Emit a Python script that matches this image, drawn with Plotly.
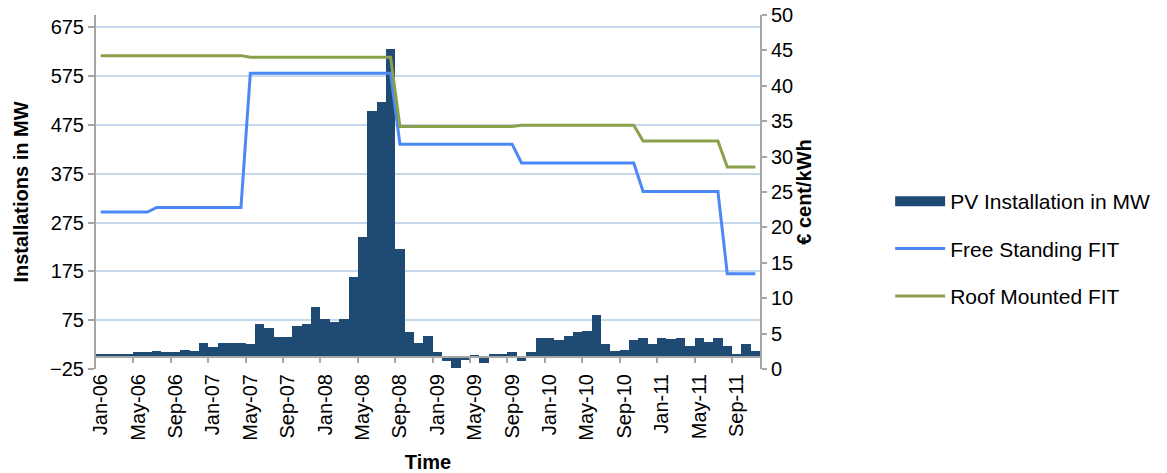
import pandas as pd
import plotly.graph_objects as go

# ---- data ----
months = pd.date_range("2006-01-01", periods=71, freq="MS").strftime("%b-%y").tolist()

pv_installation_mw = [
    5.5, 5.5, 5.5, 5, 9.7, 9.7, 12.5, 9.7, 9.5, 14.5, 11.8, 28,
    20.6, 28, 28, 28, 26, 67.6, 58.8, 39.7, 39.7, 64, 67.6, 103,
    77, 72, 77, 164, 245, 504, 522, 631, 220, 50, 28, 43,
    9, -9, -22, -6, 4, -12, 5.5, 5.5, 10, -9, 9, 38,
    38, 35, 43, 50, 52.5, 85, 27, 11, 14.5, 35, 38, 27,
    38, 37, 38, 23, 38, 30, 38, 23, 5.5, 27, 11,
]

free_standing_fit = (
    [22.17] * 6 + [22.82] * 10 + [41.78] * 16 + [31.76] * 13
    + [29.1] * 13 + [25.08] * 9 + [13.47] * 4
)
roof_mounted_fit = (
    [44.26] * 16 + [44.03] * 16 + [34.25] * 13 + [34.42] * 13
    + [32.19] * 9 + [28.52] * 4
)

left_ticks = [-25, 75, 175, 275, 375, 475, 575, 675]
label_every = 4

# ---- figure ----
idx = list(range(len(months)))
font_family = "Liberation Sans, Arial, sans-serif"
axis_grey = "#A6A6A6"
bar_color = "#1F4A73"

fig = go.Figure()
fig.add_trace(go.Bar(
    x=idx, y=pv_installation_mw, name="PV Installation in MW",
    marker=dict(color=bar_color, line=dict(width=0)),
    xaxis="x", yaxis="y", legendgroup="a", showlegend=False,
))
# legend entry for the bars, drawn as a wide block like the original
fig.add_trace(go.Scatter(
    x=[None], y=[None], name="PV Installation in MW", mode="lines",
    line=dict(color=bar_color, width=10), xaxis="x", yaxis="y", legendgroup="a",
))
fig.add_trace(go.Scatter(
    x=idx, y=free_standing_fit, name="Free Standing FIT", mode="lines",
    line=dict(color="#4A88F5", width=3), xaxis="x2", yaxis="y2", legendgroup="b",
))
fig.add_trace(go.Scatter(
    x=idx, y=roof_mounted_fit, name="Roof Mounted FIT", mode="lines",
    line=dict(color="#8AA04A", width=3), xaxis="x2", yaxis="y2", legendgroup="c",
))

xr = [-0.5, len(months) - 0.5]
zero_pos = (0 - (-25)) / (700 - (-25))

fig.update_layout(
    width=1167, height=473,
    margin=dict(l=96, r=401, t=15, b=104),
    paper_bgcolor="white", plot_bgcolor="white",
    font=dict(family=font_family, size=20, color="black"),
    bargap=0,
    showlegend=True,
    legend=dict(
        x=1.196, y=0.34, xanchor="left", yanchor="middle",
        font=dict(size=21), tracegroupgap=17, itemwidth=50,
        bgcolor="rgba(0,0,0,0)",
    ),
    xaxis=dict(
        range=xr, tickmode="array",
        tickvals=idx[::label_every], ticktext=months[::label_every],
        tickangle=-90, ticks="", showline=False, showgrid=False, zeroline=False,
        automargin=False,
        title=dict(text="<b>Time</b>", standoff=15, font=dict(size=20)),
    ),
    xaxis2=dict(
        range=xr, overlaying="x", anchor="free", position=zero_pos,
        tickmode="array", tickvals=[i + 3.5 for i in idx[::label_every]][:-1] + [67.5],
        showticklabels=False, ticks="outside", ticklen=5, tickcolor=axis_grey, tickwidth=2,
        showline=True, linecolor=axis_grey, linewidth=2, showgrid=False, zeroline=False,
    ),
    yaxis=dict(
        range=[-25, 700], tickmode="array", tickvals=left_ticks,
        showgrid=True, gridcolor="#C6D9EC", gridwidth=2,
        showline=True, linecolor=axis_grey, linewidth=2,
        ticks="outside", ticklen=6, tickcolor=axis_grey, tickwidth=2,
        zeroline=False, automargin=False,
        title=dict(text="<b>Installations in MW</b>", standoff=16, font=dict(size=20)),
    ),
    yaxis2=dict(
        range=[0, 50], dtick=5, tick0=0, overlaying="y", side="right", anchor="x",
        showgrid=False, showline=True, linecolor=axis_grey, linewidth=2,
        ticks="outside", ticklen=5, tickcolor=axis_grey, tickwidth=2,
        zeroline=False, automargin=False,
        title=dict(text="<b>€ cent/kWh</b>", standoff=2, font=dict(size=20)),
    ),
)

fig.write_html(
    "out.html",
    config={"displayModeBar": False},
    post_script="document.body.style.margin='0';",
)
